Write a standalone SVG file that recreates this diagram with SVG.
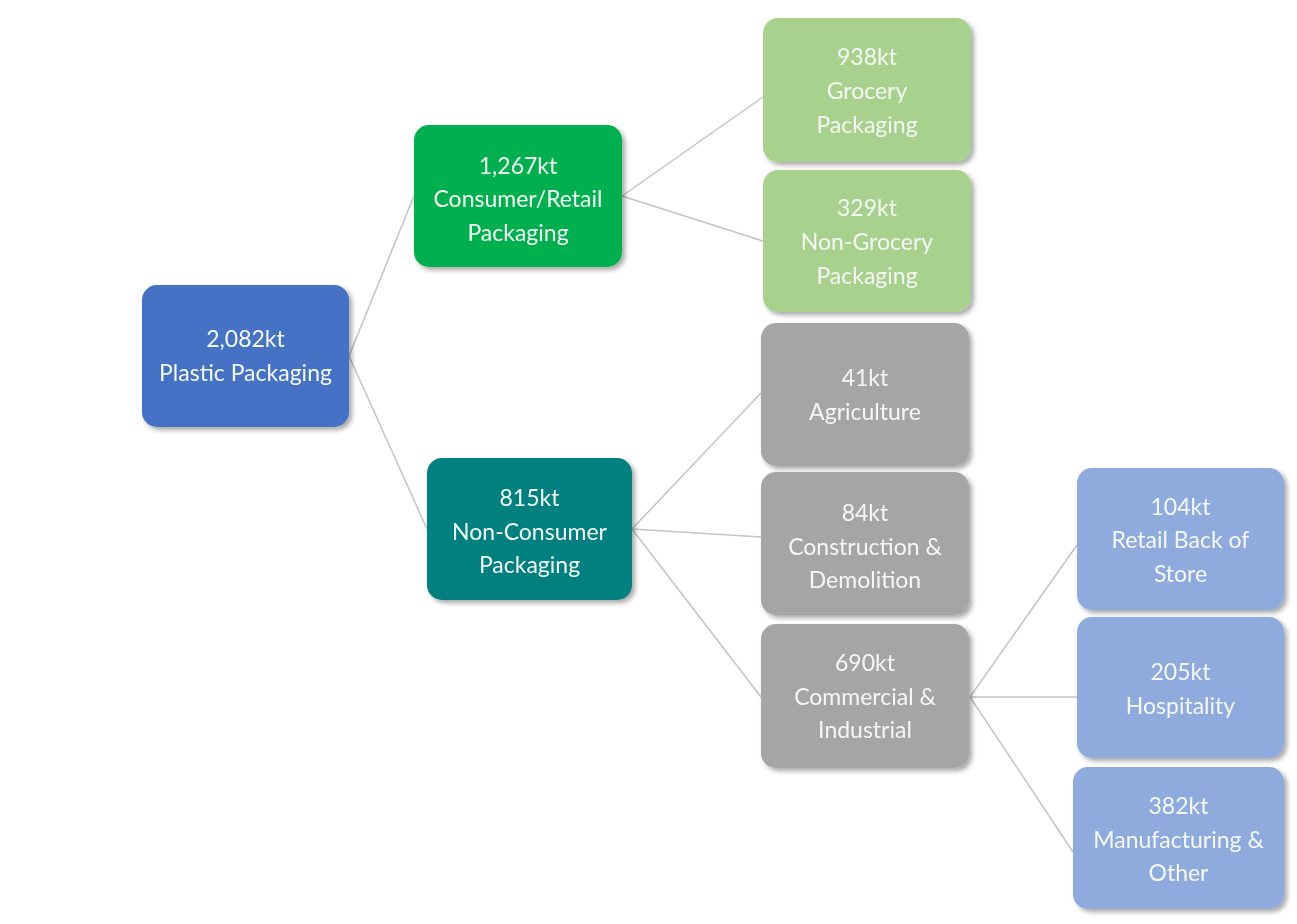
<svg xmlns="http://www.w3.org/2000/svg" width="1297" height="924" viewBox="0 0 1297 924">
<defs>
<filter id="sh" x="-10%" y="-10%" width="125%" height="125%">
<feGaussianBlur in="SourceAlpha" stdDeviation="2.5"/>
<feOffset dx="3" dy="3" result="b"/>
<feComponentTransfer><feFuncA type="linear" slope="0.35"/></feComponentTransfer>
<feMerge><feMergeNode/><feMergeNode in="SourceGraphic"/></feMerge>
</filter>
</defs>
<style>
.n{filter:url(#sh)}
.t{font-family:Lato,"Open Sans","Liberation Sans",sans-serif;font-size:23px;fill:#F4F8F4;text-anchor:middle}
.c line{stroke:#C4C4C4;stroke-width:1.5}
.blue{fill:#4472C4}.green{fill:#00B050}.teal{fill:#00807F}.lg{fill:#A9D18E}.gray{fill:#A5A5A5}.lb{fill:#8FAADC}
</style>
<rect width="1297" height="924" fill="#FFFFFF"/>
<g class="c" id="connectors">
<line x1="349" y1="356" x2="414" y2="196"/>
<line x1="349" y1="356" x2="427" y2="529"/>
<line x1="622" y1="196" x2="763" y2="97"/>
<line x1="622" y1="196" x2="763" y2="241"/>
<line x1="632" y1="529" x2="761" y2="393"/>
<line x1="632" y1="529" x2="761" y2="537"/>
<line x1="632" y1="529" x2="761" y2="697"/>
<line x1="970" y1="697" x2="1077" y2="545"/>
<line x1="970" y1="697" x2="1077" y2="697"/>
<line x1="970" y1="697" x2="1073" y2="852"/>
</g>
<g id="plastic" class="n"><rect class="blue" x="142" y="285" width="207" height="142" rx="15"/>
<text class="t" x="245.5" y="347">2,082kt</text><text class="t" x="245.5" y="381">Plastic Packaging</text></g>
<g id="consumer" class="n"><rect class="green" x="414" y="125" width="208" height="142" rx="15"/>
<text class="t" x="518" y="174">1,267kt</text><text class="t" x="518" y="207">Consumer/Retail</text><text class="t" x="518" y="241">Packaging</text></g>
<g id="nonconsumer" class="n"><rect class="teal" x="427" y="458" width="205" height="142" rx="15"/>
<text class="t" x="529.5" y="506">815kt</text><text class="t" x="529.5" y="540">Non-Consumer</text><text class="t" x="529.5" y="573">Packaging</text></g>
<g id="grocery" class="n"><rect class="lg" x="763" y="18" width="208" height="144" rx="15"/>
<text class="t" x="867" y="65">938kt</text><text class="t" x="867" y="99">Grocery</text><text class="t" x="867" y="133">Packaging</text></g>
<g id="nongrocery" class="n"><rect class="lg" x="763" y="170" width="208" height="142" rx="15"/>
<text class="t" x="867" y="216">329kt</text><text class="t" x="867" y="250">Non-Grocery</text><text class="t" x="867" y="284">Packaging</text></g>
<g id="agriculture" class="n"><rect class="gray" x="761" y="323" width="208" height="143" rx="15"/>
<text class="t" x="865" y="386">41kt</text><text class="t" x="865" y="420">Agriculture</text></g>
<g id="construction" class="n"><rect class="gray" x="761" y="472" width="208" height="143" rx="15"/>
<text class="t" x="865" y="521">84kt</text><text class="t" x="865" y="555">Construction &amp;</text><text class="t" x="865" y="588">Demolition</text></g>
<g id="commercial" class="n"><rect class="gray" x="761" y="624" width="208" height="144" rx="15"/>
<text class="t" x="865" y="671">690kt</text><text class="t" x="865" y="705">Commercial &amp;</text><text class="t" x="865" y="738">Industrial</text></g>
<g id="retail" class="n"><rect class="lb" x="1077" y="468" width="207" height="142" rx="15"/>
<text class="t" x="1180.5" y="515">104kt</text><text class="t" x="1180.5" y="548">Retail Back of</text><text class="t" x="1180.5" y="582">Store</text></g>
<g id="hospitality" class="n"><rect class="lb" x="1077" y="617" width="207" height="141" rx="15"/>
<text class="t" x="1180.5" y="680">205kt</text><text class="t" x="1180.5" y="714">Hospitality</text></g>
<g id="manufacturing" class="n"><rect class="lb" x="1073" y="767" width="211" height="142" rx="15"/>
<text class="t" x="1178.5" y="814">382kt</text><text class="t" x="1178.5" y="848">Manufacturing &amp;</text><text class="t" x="1178.5" y="881">Other</text></g>
</svg>
